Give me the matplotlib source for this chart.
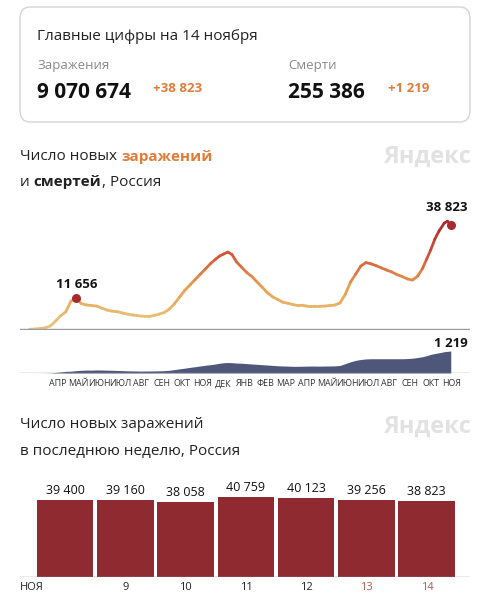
import matplotlib
matplotlib.use("Agg")
import matplotlib.pyplot as plt
import numpy as np
from matplotlib.collections import LineCollection
from matplotlib.colors import LinearSegmentedColormap
from matplotlib.patches import FancyBboxPatch

plt.rcParams['font.family'] = ['Open Sans', 'DejaVu Sans']

# weekly new cases per month, Mar 2020 .. Nov 2021
cases_by_month = [
    [0, 60, 250, 500],
    [1200, 3000, 5000, 6500],
    [10500, 11656, 9500, 9000],
    [8800, 8600, 7800, 7100],
    [6700, 6500, 6000, 5600],
    [5300, 5100, 4900, 4800, 4700],
    [5100, 5600, 6200, 7500],
    [9500, 12000, 14500, 16500],
    [18500, 20500, 22500, 24500],
    [26000, 27200, 28000, 28700, 27800],
    [25000, 23000, 21000, 19500],
    [17500, 15500, 13500, 12000],
    [11000, 10000, 9600, 9100],
    [8800, 8900, 8600, 8400, 8500],
    [8500, 8600, 8800, 9000],
    [9800, 13000, 17500, 20500],
    [23500, 24800, 24300, 23600],
    [22800, 22000, 21300, 20300],
    [19600, 18700, 18300, 19800],
    [22500, 26000, 29500, 33500, 36500],
    [39500, 40200, 38823],
]
deaths_by_month = [
    [0, 0, 2, 5],
    [10, 30, 60, 90],
    [100, 130, 150, 160],
    [160, 170, 165, 155],
    [150, 140, 130, 120],
    [115, 110, 105, 110, 110],
    [115, 120, 130, 150],
    [190, 230, 270, 310],
    [350, 390, 430, 460],
    [500, 540, 570, 580, 570],
    [550, 540, 520, 500],
    [480, 460, 440, 420],
    [400, 390, 380, 370],
    [370, 375, 380, 385, 385],
    [380, 385, 390, 395],
    [420, 520, 620, 700],
    [750, 780, 790, 790],
    [790, 790, 790, 790],
    [790, 800, 820, 860],
    [900, 960, 1030, 1080, 1120],
    [1180, 1200, 1219],
]
month_labels = ["АПР", "МАЙ", "ИЮН", "ИЮЛ", "АВГ", "СЕН", "ОКТ", "НОЯ", "ДЕК", "ЯНВ", "ФЕВ",
                "МАР", "АПР", "МАЙ", "ИЮН", "ИЮЛ", "АВГ", "СЕН", "ОКТ", "НОЯ"]
week_days = ["НОЯ", "9", "10", "11", "12", "13", "14"]
week_cases = [39400, 39160, 38058, 40759, 40123, 39256, 38823]

def positions(by_month):
    xs, ys = [], []
    last = len(by_month) - 1
    for m, vals in enumerate(by_month):
        n = len(vals)
        for k, v in enumerate(vals):
            if m == last:
                xs.append(m + (k + 1) / n * 0.47)
            else:
                xs.append(m + (k + 0.5) / n)
            ys.append(v)
    return np.array(xs), np.array(ys, dtype=float)

W, H = 491, 600
fig = plt.figure(figsize=(W / 100, H / 100), dpi=100)
fig.patch.set_facecolor("white")

def rect(l, t, r, b):
    return [l / W, 1 - b / H, (r - l) / W, (b - t) / H]

def ftext(x, y, s, **kw):
    return fig.text(x / W, 1 - y / H, s, **kw)

def seq_text(x, y, parts, size):
    r = fig.canvas.get_renderer()
    for s, color, weight in parts:
        t = ftext(x, y, s, fontsize=size, color=color, fontweight=weight, va="center", ha="left")
        bb = t.get_window_extent(renderer=r)
        x += bb.width

card = FancyBboxPatch((20 / W, 1 - 122 / H), 450 / W, 115 / H,
                      boxstyle="round,pad=0,rounding_size=0.02", transform=fig.transFigure,
                      facecolor="white", edgecolor="#d5d5d5", lw=1)
fig.patches.append(card)
ftext(37, 36, "Главные цифры на 14 ноября", fontsize=11, color="#222222", va="center")
ftext(37, 66, "Заражения", fontsize=9.5, color="#8a8a8a", va="center")
ftext(288, 66, "Смерти", fontsize=9.5, color="#8a8a8a", va="center")
ftext(37, 93, "9 070 674", fontsize=15, fontweight="bold", color="#111111", va="center")
ftext(153, 88, "+38 823", fontsize=9.5, fontweight="bold", color="#e07b39", va="center")
ftext(288, 93, "255 386", fontsize=15, fontweight="bold", color="#111111", va="center")
ftext(388, 88, "+1 219", fontsize=9.5, fontweight="bold", color="#e07b39", va="center")

seq_text(20, 157, [("Число новых ", "#222222", "normal"), ("заражений", "#e07b39", "bold")], 11)
seq_text(20, 182, [("и ", "#222222", "normal"), ("смертей", "#222222", "bold"), (", Россия", "#222222", "normal")], 11)
ftext(471, 157, "Яндекс", fontsize=17, fontweight="bold", color="#e2e2e2", va="center", ha="right")
ftext(20, 425, "Число новых заражений", fontsize=11, color="#222222", va="center")
ftext(20, 451, "в последнюю неделю, Россия", fontsize=11, color="#222222", va="center")
ftext(471, 427, "Яндекс", fontsize=17, fontweight="bold", color="#e2e2e2", va="center", ha="right")

XMIN, XMAX = -0.34, 21.4
ax = fig.add_axes(rect(20, 210, 470, 330))
xs, ys = positions(cases_by_month)
cmap = LinearSegmentedColormap.from_list("c", ["#e8c27a", "#e8a050", "#d4553a", "#a82a2c"])
pts = np.column_stack([xs, ys]).reshape(-1, 1, 2)
segs = np.concatenate([pts[:-1], pts[1:]], axis=1)
lc = LineCollection(segs, cmap=cmap, norm=plt.Normalize(3000, 40000), lw=2, capstyle="round")
lc.set_array((ys[:-1] + ys[1:]) / 2)
ax.add_collection(lc)
i1 = int(np.argmax(ys[:15]))
ax.scatter([xs[i1], xs[-1]], [ys[i1], ys[-1]], s=30, color="#a82a2c", zorder=3)
ax.text(xs[i1], ys[i1] + 2600, "11 656", ha="center", va="bottom", fontsize=9.5, fontweight="bold", color="#111111")
ax.text(xs[-1] - 0.2, ys[-1] + 4000, "38 823", ha="center", va="bottom", fontsize=9.5, fontweight="bold", color="#111111")
ax.axhline(0, color="#9a9aa5", lw=1)
ax.set_xlim(XMIN, XMAX)
ax.set_ylim(-300, 38823 * 120 / 105)
ax.axis("off")

ax2 = fig.add_axes(rect(20, 345, 470, 373))
dx, dy = positions(deaths_by_month)
ax2.fill_between(dx, 0, dy, color="#4e5679", lw=0)
ax2.axhline(0, color="#9a9aa5", lw=1)
ax2.text(dx[-1], dy[-1] + 60, "1 219", ha="center", va="bottom", fontsize=9.5, fontweight="bold", color="#111111")
ax2.set_xlim(XMIN, XMAX)
ax2.set_ylim(0, 1219 * 28 / 22)
ax2.axis("off")
for i, lab in enumerate(month_labels):
    xpx = 27 + (i + 1.5) * 20.7
    ftext(xpx, 384, lab, fontsize=6.4, color="#333333", ha="center", va="center")

ax3 = fig.add_axes(rect(20, 480, 470, 577))
bx = np.arange(len(week_cases))
ax3.bar(bx, week_cases, width=0.94, color="#8f2a30")
for x, v in zip(bx, week_cases):
    ax3.text(x, v + 1500, f"{v:,}".replace(",", " "), ha="center", va="bottom", fontsize=9, color="#111111")
ax3.axhline(0, color="#9a9aa5", lw=1)
ax3.set_xlim(-0.75, 6.72)
ax3.set_ylim(0, 40759 * 97 / 80)
ax3.axis("off")
for i, lab in enumerate(week_days):
    color = "#b55a50" if i >= 5 else "#222222"
    if i == 0:
        ftext(20, 588, lab, fontsize=8, color=color, ha="left", va="center")
    else:
        xpx = 35 + (i + 0.5) * 60.3
        ftext(xpx, 588, lab, fontsize=8, color=color, ha="center", va="center")

fig.savefig("out.png", dpi=100)
